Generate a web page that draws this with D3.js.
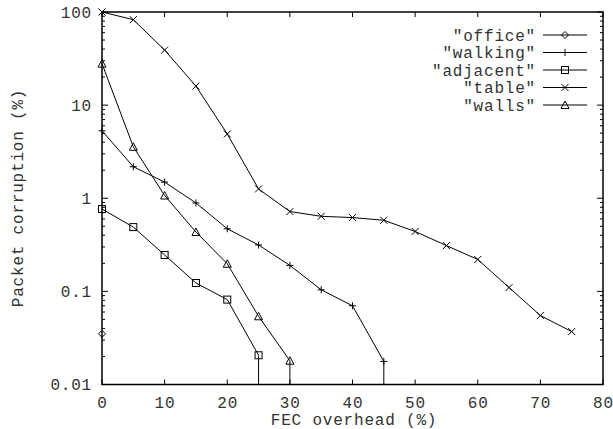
<!DOCTYPE html>
<html>
<head>
<meta charset="utf-8">
<script src="https://cdn.jsdelivr.net/npm/d3@7"></script>
<style>
  body { margin: 0; background: #fff; }
  text { font-family: "Liberation Mono", "DejaVu Sans Mono", monospace; font-size: 16px; letter-spacing: 0.8px; fill: #333; }
</style>
</head>
<body>
<svg id="chart" width="613" height="429"></svg>
<script>
// data (FEC overhead % -> packet corruption %)
var seriesNames = ["office", "walking", "adjacent", "table", "walls"];
var officeX = [0];
var officeY = [0.035];
var walkingX = [0, 5, 10, 15, 20, 25, 30, 35, 40, 45];
var walkingY = [5.3, 2.18, 1.49, 0.89, 0.47, 0.315, 0.19, 0.104, 0.070, 0.0177];
var adjacentX = [0, 5, 10, 15, 20, 25];
var adjacentY = [0.766, 0.49, 0.246, 0.123, 0.0816, 0.0206];
var tableX = [0, 5, 10, 15, 20, 25, 30, 35, 40, 45, 50, 55, 60, 65, 70, 75];
var tableY = [100, 82.7, 39, 16, 4.9, 1.26, 0.72, 0.64, 0.62, 0.58, 0.44, 0.31, 0.22, 0.11, 0.055, 0.037];
var wallsX = [0, 5, 10, 15, 20, 25, 30];
var wallsY = [27.9, 3.57, 1.07, 0.434, 0.198, 0.054, 0.018];
// series that fall to zero after the last point (drawn as a drop to the axis)
var dropsToZero = [false, true, true, false, true];
var xTicks = [0, 10, 20, 30, 40, 50, 60, 70, 80];
var yTicks = [0.01, 0.1, 1, 10, 100];
var yTickLabels = ["0.01", "0.1", "1", "10", "100"];

(function () {
var xs = [officeX, walkingX, adjacentX, tableX, wallsX];
var ys = [officeY, walkingY, adjacentY, tableY, wallsY];
var series = seriesNames.map(function (n, i) {
    return { name: n, drop: dropsToZero[i], pts: xs[i].map(function (x, j) { return [x, ys[i][j]]; }) };
});

var svg = d3.select("#chart");
var pL = 102, pT = 12, pR = 603, pB = 384.5;

var x = d3.scaleLinear().domain([0, 80]).range([pL, pR]);
var y = d3.scaleLog().domain([0.01, 100]).range([pB, pT]);

// ticks (inward, on all four sides)
var g = svg.append("g").attr("stroke", "#000").attr("stroke-width", 1);
xTicks.forEach(function (t) {
    g.append("line").attr("x1", x(t)).attr("x2", x(t)).attr("y1", pB).attr("y2", pB - 5);
    g.append("line").attr("x1", x(t)).attr("x2", x(t)).attr("y1", pT).attr("y2", pT + 5);
});
yTicks.forEach(function (t, i) {
    g.append("line").attr("x1", pL).attr("x2", pL + 6).attr("y1", y(t)).attr("y2", y(t));
    g.append("line").attr("x1", pR).attr("x2", pR - 6).attr("y1", y(t)).attr("y2", y(t));
    if (i < yTicks.length - 1) {
        for (var k = 2; k <= 9; k++) {
            var v = t * k;
            g.append("line").attr("x1", pL).attr("x2", pL + 3).attr("y1", y(v)).attr("y2", y(v));
            g.append("line").attr("x1", pR).attr("x2", pR - 3).attr("y1", y(v)).attr("y2", y(v));
        }
    }
});

// tick labels
svg.selectAll(".xl").data(xTicks).enter().append("text")
    .attr("x", function (d) { return x(d) + 0.4; })
    .attr("y", 402).attr("dy", "0.35em")
    .attr("text-anchor", "middle")
    .text(function (d) { return d; });
svg.selectAll(".yl").data(yTicks).enter().append("text")
    .attr("x", 92)
    .attr("y", function (d) { return y(d); }).attr("dy", "0.35em")
    .attr("text-anchor", "end")
    .text(function (d, i) { return yTickLabels[i]; });

// axis titles
svg.append("text").attr("x", 354).attr("y", 419).attr("dy", "0.35em")
    .attr("text-anchor", "middle").text("FEC overhead (%)");
svg.append("text").attr("transform", "translate(17,198) rotate(-90)").attr("dy", "0.35em")
    .attr("text-anchor", "middle").text("Packet corruption (%)");

// markers
function marker(sel, name, cx, cy) {
    var s = 3.5;
    var m = sel.append("g").attr("transform", "translate(" + cx + "," + cy + ")")
        .attr("stroke", "#000").attr("stroke-width", 1).attr("fill", "none");
    if (name === "office") {
        m.append("path").attr("d", "M0,-" + s + "L" + s + ",0L0," + s + "L-" + s + ",0Z");
    } else if (name === "walking") {
        m.append("path").attr("d", "M-" + s + ",0H" + s + "M0,-" + s + "V" + s);
    } else if (name === "adjacent") {
        m.append("rect").attr("x", -s).attr("y", -s).attr("width", 2 * s).attr("height", 2 * s);
    } else if (name === "table") {
        m.append("path").attr("d", "M-" + s + ",-" + s + "L" + s + "," + s + "M" + s + ",-" + s + "L-" + s + "," + s);
    } else {
        m.append("path").attr("d", "M0,-" + (s + 0.5) + "L" + (s + 0.5) + "," + s + "L-" + (s + 0.5) + "," + s + "Z");
    }
}

var line = d3.line().x(function (d) { return x(d[0]); }).y(function (d) { return y(d[1]); });

series.forEach(function (s) {
    svg.append("path").attr("d", line(s.pts)).attr("fill", "none")
        .attr("stroke", "#000").attr("stroke-width", 1);
    if (s.drop) {
        var last = s.pts[s.pts.length - 1];
        svg.append("line").attr("x1", x(last[0])).attr("x2", x(last[0]))
            .attr("y1", y(last[1])).attr("y2", y.range()[0])
            .attr("stroke", "#000").attr("stroke-width", 1);
    }
    s.pts.forEach(function (p) { marker(svg, s.name, x(p[0]), y(p[1])); });
});

// legend
series.forEach(function (s, i) {
    var ly = 35 + i * 17.5;
    svg.append("text").attr("x", 536).attr("y", ly).attr("dy", "0.35em")
        .attr("text-anchor", "end").text('"' + s.name + '"');
    svg.append("line").attr("x1", 543).attr("x2", 587).attr("y1", ly).attr("y2", ly)
        .attr("stroke", "#000").attr("stroke-width", 1);
    marker(svg, s.name, 565, ly);
});

// frame
svg.append("rect").attr("x", pL).attr("y", pT)
    .attr("width", pR - pL).attr("height", pB - pT)
    .attr("fill", "none").attr("stroke", "#000").attr("stroke-width", 1.5);
})();
</script>
</body>
</html>
